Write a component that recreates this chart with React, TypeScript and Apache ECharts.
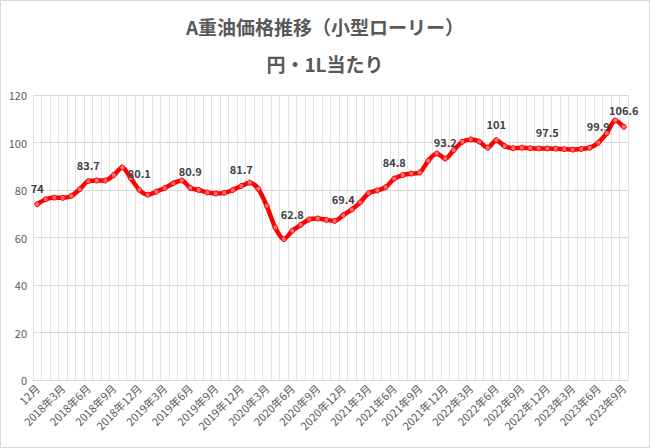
import { useEffect, useRef } from "react";
import * as echarts from "echarts";

const TITLE = "A重油価格推移（小型ローリー）";
const SUBTITLE = "円・1L当たり";

const MONTHS = [
  "12月",
  "2018年1月", "2018年2月", "2018年3月", "2018年4月", "2018年5月", "2018年6月",
  "2018年7月", "2018年8月", "2018年9月", "2018年10月", "2018年11月", "2018年12月",
  "2019年1月", "2019年2月", "2019年3月", "2019年4月", "2019年5月", "2019年6月",
  "2019年7月", "2019年8月", "2019年9月", "2019年10月", "2019年11月", "2019年12月",
  "2020年1月", "2020年2月", "2020年3月", "2020年4月", "2020年5月", "2020年6月",
  "2020年7月", "2020年8月", "2020年9月", "2020年10月", "2020年11月", "2020年12月",
  "2021年1月", "2021年2月", "2021年3月", "2021年4月", "2021年5月", "2021年6月",
  "2021年7月", "2021年8月", "2021年9月", "2021年10月", "2021年11月", "2021年12月",
  "2022年1月", "2022年2月", "2022年3月", "2022年4月", "2022年5月", "2022年6月",
  "2022年7月", "2022年8月", "2022年9月", "2022年10月", "2022年11月", "2022年12月",
  "2023年1月", "2023年2月", "2023年3月", "2023年4月", "2023年5月", "2023年6月",
  "2023年7月", "2023年8月", "2023年9月",
];

// 円/L
const PRICES = [
  74,
  76.1, 76.8, 76.7, 77.5, 80.3, 83.7, 84.0, 84.0, 86.3, 89.5, 85.0, 80.1,
  78.0, 79.3, 80.8, 82.8, 84.0, 80.9, 80.0, 79.0, 78.5, 78.8, 80.0, 81.7,
  83.1, 80.5, 73.3, 64.2, 59.3, 62.8, 65.3, 67.6, 68.0, 67.4, 67.0, 69.4,
  71.8, 74.8, 78.7, 79.8, 81.2, 84.8, 86.3, 86.9, 87.4, 92.3, 95.4, 93.2,
  96.8, 100.3, 101.3, 100.4, 97.8, 101, 98.5, 97.6, 97.8, 97.6, 97.5, 97.5,
  97.4, 97.2, 97.0, 97.3, 97.8, 99.9, 103.9, 109.3, 106.6,
];

// data labels shown on these points
const LABELED = [0, 6, 12, 18, 24, 30, 36, 42, 48, 54, 60, 66, 69];

const FONT = "'Noto Sans CJK JP', 'Noto Sans', sans-serif";

export default function App() {
  const chartRef = useRef<HTMLDivElement>(null);

  useEffect(() => {
    if (!chartRef.current) return;
    const chart = echarts.init(chartRef.current, undefined, { renderer: "svg" });

    chart.setOption({
      animation: false,
      backgroundColor: "#ffffff",
      textStyle: { fontFamily: FONT },
      title: [
        {
          text: TITLE,
          left: "center",
          top: 12,
          textStyle: { fontSize: 19, fontWeight: "bold", color: "#595959", fontFamily: FONT },
        },
        {
          text: SUBTITLE,
          left: "center",
          top: 49,
          textStyle: { fontSize: 19, fontWeight: "bold", color: "#595959", fontFamily: FONT },
        },
      ],
      graphic: [
        {
          type: "rect",
          shape: { x: 0.5, y: 0.5, width: 649, height: 447 },
          style: { fill: "none", stroke: "#d9d9d9", lineWidth: 1 },
          silent: true,
        },
      ],
      grid: { left: 33, right: 22, top: 95, bottom: 68, containLabel: false },
      xAxis: {
        type: "category",
        data: MONTHS,
        boundaryGap: true,
        axisLine: { lineStyle: { color: "#d9d9d9" } },
        axisTick: { show: false },
        axisLabel: {
          interval: 2,
          rotate: 45,
          fontSize: 11,
          color: "#595959",
          margin: 6,
          fontFamily: FONT,
        },
        splitLine: { show: true, interval: 0, lineStyle: { color: "#e3e3e3", width: 1 } },
      },
      yAxis: {
        type: "value",
        min: 0,
        max: 120,
        interval: 20,
        axisLine: { show: false },
        axisTick: { show: false },
        axisLabel: { fontSize: 11, color: "#595959", margin: 6, fontFamily: FONT },
        splitLine: { lineStyle: { color: "#d9d9d9", width: 1 } },
      },
      series: [
        {
          type: "line",
          smooth: 0.3,
          data: PRICES.map((v, i) => ({
            value: v,
            label: { show: LABELED.includes(i) },
          })),
          lineStyle: { color: "#ff0000", width: 4.5 },
          symbol: "circle",
          symbolSize: 5,
          showAllSymbol: true,
          itemStyle: { color: "#ff7070", borderColor: "#ff0000", borderWidth: 1 },
          label: {
            position: "top",
            distance: 8,
            fontSize: 11,
            fontWeight: "bold",
            color: "#404040",
            fontFamily: FONT,
          },
        },
      ],
    });

    return () => {
      chart.dispose();
    };
  }, []);

  return (
    <div
      ref={chartRef}
      style={{ position: "fixed", left: 0, top: 0, width: 650, height: 448 }}
    />
  );
}
